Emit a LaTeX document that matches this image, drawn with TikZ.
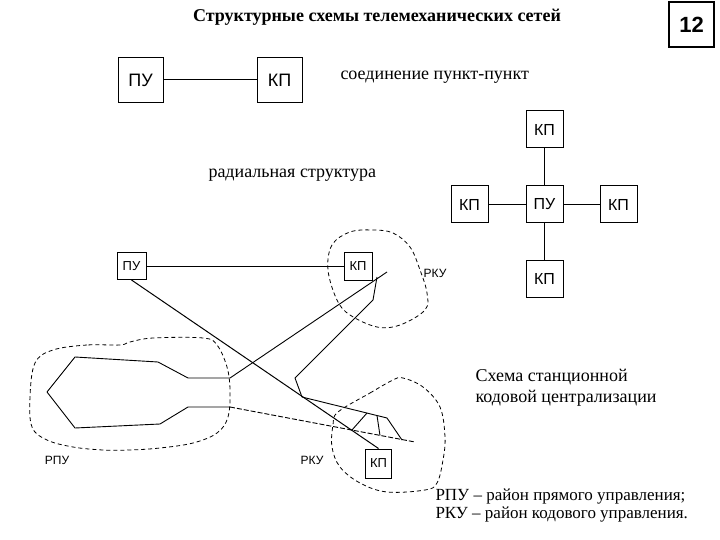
\documentclass[tikz,border=0pt]{standalone}
\usepackage{fontspec}
\setmainfont{Liberation Serif}
\setsansfont{Liberation Sans}
\usepackage{tikz}
\usetikzlibrary{positioning}
\tikzstyle{bigbox}=[%
      rectangle, draw=black, line width=1pt, fill=none,
      minimum height=45pt, minimum width=45pt, inner sep=0pt,
      font=\sffamily\fontsize{18}{18}\selectfont
]
\tikzstyle{radbox}=[%
      rectangle, draw=black, line width=1pt, fill=none,
      minimum height=37pt, minimum width=37pt, inner sep=0pt,
      font=\sffamily\fontsize{16}{16}\selectfont
]
\tikzstyle{smallbox}=[%
      rectangle, draw=black, line width=1pt, fill=none,
      minimum height=28pt, minimum width=28pt, inner sep=0pt,
      font=\sffamily\fontsize{13}{13}\selectfont
]
\tikzstyle{txt}=[%
      anchor=west, inner sep=0pt, align=left,
      font=\fontsize{18}{21}\selectfont
]
\tikzstyle{zonelbl}=[font=\sffamily\fontsize{12}{12}\selectfont, inner sep=0pt]
\tikzstyle{zone}=[line width=0.8pt, dash pattern=on 4pt off 3pt]
\tikzstyle{track}=[line width=0.9pt, line join=round]

\begin{document}
\begin{tikzpicture}[x=1pt, y=-1pt, line width=1pt]
    \useasboundingbox (0,0) rectangle (720,540);

    \node[font=\bfseries\fontsize{18}{20}\selectfont] (title) at (377,17)
          {Структурные схемы телемеханических сетей};
    \node[draw, line width=2pt, minimum size=45pt, inner sep=0pt,
          font=\sffamily\bfseries\fontsize{22}{22}\selectfont] (num) at (691.5,25) {12};

    % point-to-point
    \node[bigbox] (pu1) at (140.5,80)       {ПУ};
    \node[bigbox] (kp1) [right = 93pt of pu1] {КП};
    \node[txt] (p2p) at (340,77) {соединение пункт-пункт};
    \path (pu1) edge (kp1);

    % radial
    \node[radbox] (pu2) at (544.5,204.5)      {ПУ};
    \node[radbox] (kp2n) [above = 37pt of pu2] {КП};
    \node[radbox] (kp2w) [left = 37pt of pu2]  {КП};
    \node[radbox] (kp2e) [right = 36pt of pu2] {КП};
    \node[radbox] (kp2s) [below = 36pt of pu2] {КП};
    \node[txt] (rad) at (208,175) {радиальная структура};
    \path (pu2) edge (kp2n)
          (pu2) edge (kp2w)
          (pu2) edge (kp2e)
          (pu2) edge (kp2s)
    ;

    % station code control
    \node[smallbox, minimum width=29pt, minimum height=27pt] (pu3) at (131.5,266) {ПУ};
    \node[smallbox] (kp3) at (358,266)     {КП};
    \node[smallbox, minimum width=26pt, minimum height=29pt] (kp4) at (378.5,463.5) {КП};
    \node[zonelbl] (rku1) at (435,273) {РКУ};
    \node[zonelbl] (rku2) at (312,460) {РКУ};
    \node[zonelbl] (rpu)  at (57,460)  {РПУ};
    \path (pu3) edge (kp3)
          (pu3.south) edge (kp4.north)
    ;

    \draw[zone] plot[smooth cycle, tension=0.6] coordinates {(120,345) (87,345) (53,350)
          (35,363) (30,397) (32,427) (47,440) (73,447) (103,450) (130,450) (160,448)
          (193,443) (217,433) (228,417) (230,390) (227,367) (217,345) (203,338)
          (153,338) (130,342)};
    \draw[zone] plot[smooth cycle, tension=0.6] coordinates {(350,232) (332,245) (328,270)
          (337,300) (350,315) (377,327) (400,325) (425,310) (427,293) (420,270)
          (410,247) (393,233) (373,230)};
    \draw[zone] plot[smooth cycle, tension=0.6] coordinates {(338,412) (370,393) (393,380)
          (403,378) (423,387) (440,407) (445,437) (443,460) (437,483) (425,490)
          (387,492) (360,483) (340,467) (332,447) (333,425)};

    \draw[track] (387,272) -- (230,378) -- (188,378) -- (158,362) -- (75,357)
          -- (47,392) -- (75,428) -- (160,424) -- (188,407) -- (230,407);
    \draw[track, dash pattern=on 5pt off 2pt] (230,407) -- (415,442);
    \draw[track] (377,277) -- (373,300) -- (295,378) -- (302,397) -- (387,418) -- (402,440);
    \draw[track] (352,430) -- (367,413) (377,415.5) -- (380,435.5);

    \node[txt] (sck) at (475,387.5) {Схема станционной\\кодовой централизации};
    \node[txt, font=\fontsize{17}{18}\selectfont] (legend) at (435,506)
          {РПУ – район прямого управления;\\РКУ – район кодового управления.};
\end{tikzpicture}
\end{document}
